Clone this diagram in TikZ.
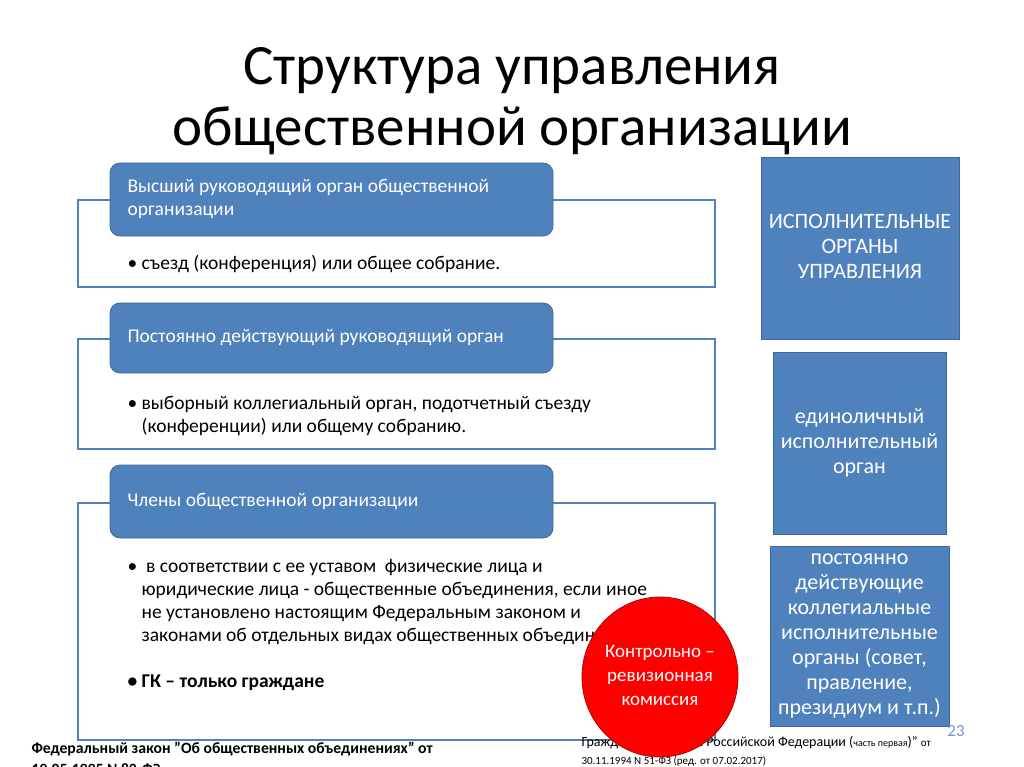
\documentclass[tikz,border=0pt]{standalone}
\usepackage{fontspec}
\setmainfont{Carlito}
\definecolor{bl}{HTML}{4F81BD}
\definecolor{rd}{HTML}{FF0000}
\begin{document}
\begin{tikzpicture}[x=1pt,y=-1pt,
  outl/.style={draw=bl,line width=1.5pt},
  hdr/.style={fill=bl,draw=bl!80!black,rounded corners=10pt,line width=0.8pt},
  ht/.style={anchor=west,text=white,font=\fontsize{19.5}{23}\selectfont,align=left},
  bt/.style={anchor=west,font=\fontsize{19.5}{23}\selectfont,align=left},
  rbox/.style={fill=bl,draw=bl!80!black,line width=0.8pt},
  rt/.style={text=white,font=\fontsize{22}{25}\selectfont,align=center}]
\useasboundingbox (0,0) rectangle (1024,767);
\clip (0,0) rectangle (1024,767);
\node[font=\fontsize{57}{61}\selectfont,align=center] (title) at (512,101) {Структура управления\\общественной организации};
% box 1
\draw[outl] (78,200) rectangle (715,287);
\draw[hdr] (110,163) rectangle (553,236);
\node[ht] (h1) at (124,199) {Высший руководящий орган общественной\\организации};
\node[bt] (b1) at (124,264) {• съезд (конференция) или общее собрание.};
% box 2
\draw[outl] (78,339) rectangle (715,449);
\draw[hdr] (110,303) rectangle (553,373);
\node[ht] (h2) at (124,338) {Постоянно действующий руководящий орган};
\node[bt] (b2) at (124,415.5) {• выборный коллегиальный орган, подотчетный съезду\\\phantom{• }(конференции) или общему собранию.};
% box 3
\draw[outl] (78,503) rectangle (715,740);
\draw[hdr] (110,465) rectangle (553,538);
\node[ht] (h3) at (124,501) {Члены общественной организации};
\node[bt] (b3) at (124,602.5) {•\ \ в соответствии с ее уставом \ физические лица и\\\phantom{• }юридические лица - общественные объединения, если иное\\\phantom{• }не установлено настоящим Федеральным законом и\\\phantom{• }законами об отдельных видах общественных объединений};
\node[bt,font=\fontsize{19.5}{23}\selectfont\bfseries] (b4) at (124,683) {• ГК – только граждане};
% right boxes
\draw[rbox] (761,157) rectangle (959,339);
\node[rt] (r1) at (860,246) {ИСПОЛНИТЕЛЬНЫЕ\\ОРГАНЫ\\УПРАВЛЕНИЯ};
\draw[rbox] (773,352) rectangle (946,534);
\node[rt] (r2) at (859.5,443) {единоличный\\исполнительный\\орган};
\draw[rbox] (770,546) rectangle (949,726);
\node[rt] (r3) at (859.5,636) {постоянно\\действующие\\коллегиальные\\исполнительные\\органы (совет,\\правление,\\президиум и т.п.)};
% footers
\node[anchor=west,font=\fontsize{15.7}{21}\selectfont\bfseries,align=left] (f1) at (28,758) {Федеральный закон "Об общественных объединениях" от\\19.05.1995 N 82-ФЗ};
\node[anchor=west,font=\fontsize{14}{18}\selectfont,align=left] (f2) at (578,751) {Гражданский кодекс Российской Федерации ({\fontsize{10}{12}\selectfont часть первая})" {\fontsize{11}{12}\selectfont от}\\{\fontsize{11}{12}\selectfont 30.11.1994 N 51-ФЗ (ред. от 07.02.2017)}};
\node[text=bl!80,font=\fontsize{17}{18}\selectfont] (n) at (956,731) {23};
% ellipse
\draw[fill=rd,draw=rd!70!black,line width=0.8pt] (660,677) ellipse [x radius=78,y radius=80];
\node[text=white,font=\fontsize{19}{24}\selectfont,align=center] (e) at (660,675) {Контрольно –\\ревизионная\\комиссия};
\end{tikzpicture}
\end{document}
